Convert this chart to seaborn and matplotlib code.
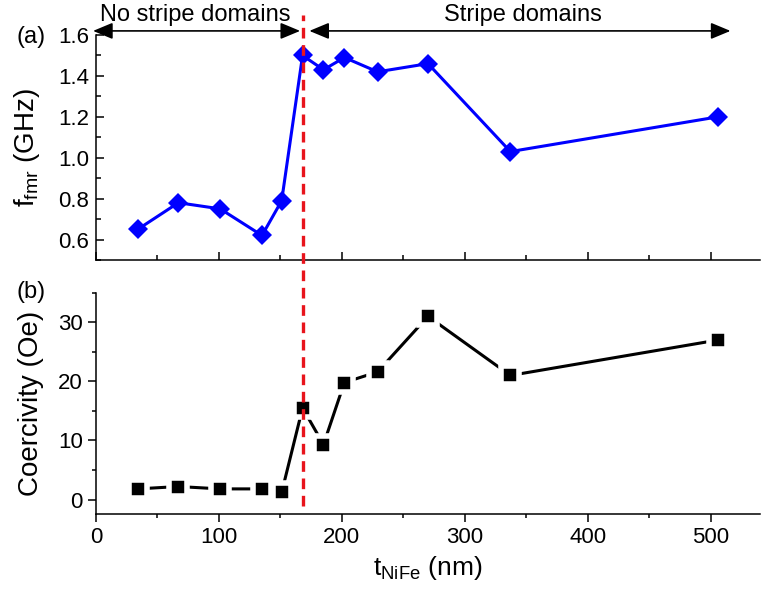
import matplotlib
matplotlib.use("Agg")
import matplotlib.pyplot as plt
import seaborn as sns
import pandas as pd
from matplotlib.ticker import MultipleLocator

# ---- data ----
thickness_nm = [34, 67, 101, 135, 151, 168, 185, 202, 229, 270, 337, 506]
f_fmr_ghz = [0.65, 0.78, 0.75, 0.62, 0.79, 1.50, 1.43, 1.49, 1.42, 1.46, 1.03, 1.20]
coercivity_oe = [1.8, 2.2, 1.8, 1.8, 1.2, 15.5, 9.3, 19.8, 21.6, 31.0, 21.0, 27.0]
boundary_nm = 168
region_labels = ["No stripe domains", "Stripe domains"]
f_ticks = [0.6, 0.8, 1.0, 1.2, 1.4, 1.6]
f_ticklabels = ["0.6", "0.8", "1.0", "1.2", "1.4", "1.6"]

df = pd.DataFrame({"t": thickness_nm, "f": f_fmr_ghz, "hc": coercivity_oe})

sns.set_style("ticks")
plt.rcParams["font.family"] = ["Liberation Sans", "DejaVu Sans"]
plt.rcParams["mathtext.fontset"] = "custom"
plt.rcParams["mathtext.rm"] = "Liberation Sans"
plt.rcParams["text.color"] = "black"
plt.rcParams["axes.labelcolor"] = "black"
plt.rcParams["xtick.color"] = "black"
plt.rcParams["ytick.color"] = "black"
plt.rcParams["axes.edgecolor"] = "black"

fig = plt.figure(figsize=(7.63, 5.96), dpi=100)
W, H = 763, 596
def box(l, t, r, b):
    return [l / W, 1 - b / H, (r - l) / W, (b - t) / H]

ax1 = fig.add_axes(box(96, 35, 760, 260))
ax2 = fig.add_axes(box(96, 292.7, 760, 514.3))

sns.lineplot(data=df, x="t", y="f", ax=ax1, color="#0000ff", lw=2.2,
             marker="D", markersize=10, markeredgewidth=0, sort=False)
sns.lineplot(data=df, x="t", y="hc", ax=ax2, color="black", lw=2.2,
             marker="s", markersize=13, markeredgewidth=4,
             markeredgecolor="white", sort=False)

for ax in (ax1, ax2):
    ax.set_xlim(0, 540)
    ax.xaxis.set_major_locator(MultipleLocator(100))
    ax.xaxis.set_minor_locator(MultipleLocator(50))
    for s in ("top", "right"):
        ax.spines[s].set_visible(False)
    for s in ("left", "bottom"):
        ax.spines[s].set_linewidth(1.1)
    ax.set_facecolor("none")

# top panel: ticks pointing inward
ax1.tick_params(which="major", direction="in", length=6, width=1.1,
                labelsize=16, pad=5)
ax1.tick_params(which="minor", direction="in", length=3.5, width=1.1)
# bottom panel: ticks pointing outward
ax2.tick_params(which="major", direction="out", length=6, width=1.1,
                labelsize=16)
ax2.tick_params(which="minor", direction="out", length=3, width=1.1)

ax1.set_ylim(0.5, 1.6)
ax1.set_yticks(f_ticks)
ax1.set_yticklabels(f_ticklabels)
ax1.yaxis.set_minor_locator(MultipleLocator(0.1))
ax1.tick_params(axis="x", labelbottom=False)
ax1.set_xlabel("")
ax1.set_ylabel(r"$\mathregular{f_{fmr}}$ (GHz)", fontsize=20)
ax1.yaxis.set_label_coords(-0.082, 0.5)

ax2.set_ylim(-2.5, 35)
ax2.yaxis.set_major_locator(MultipleLocator(10))
ax2.yaxis.set_minor_locator(MultipleLocator(5))
ax2.set_xlabel(r"$\mathregular{t_{NiFe}}$ (nm)", fontsize=19, labelpad=4)
ax2.set_ylabel("Coercivity (Oe)", fontsize=20)
ax2.yaxis.set_label_coords(-0.078, 0.5)

# region arrows and labels
arrow_kw = dict(arrowstyle="<|-|>,head_length=0.6,head_width=0.25",
                color="black", lw=1.2, mutation_scale=20,
                shrinkA=0, shrinkB=0)
ax1.annotate("", xy=(-2.4, 1.62), xytext=(166, 1.62),
             arrowprops=arrow_kw, annotation_clip=False)
ax1.annotate("", xy=(173.5, 1.62), xytext=(516, 1.62),
             arrowprops=arrow_kw, annotation_clip=False)
ax1.text(81, 1.70, region_labels[0], ha="center", va="center", fontsize=17)
ax1.text(347, 1.70, region_labels[1], ha="center", va="center", fontsize=17)

# red dashed boundary across both panels
ax2.axvline(boundary_nm, ymin=0.0375, ymax=2.253, color="#e8141c", lw=2.4,
            ls=(0, (3.2, 2.0)), clip_on=False, zorder=10)

fig.text(31 / W, 1 - 37 / H, "(a)", fontsize=17, ha="center", va="center")
fig.text(31 / W, 1 - 292 / H, "(b)", fontsize=17, ha="center", va="center")

fig.savefig("out.png", dpi=100)
